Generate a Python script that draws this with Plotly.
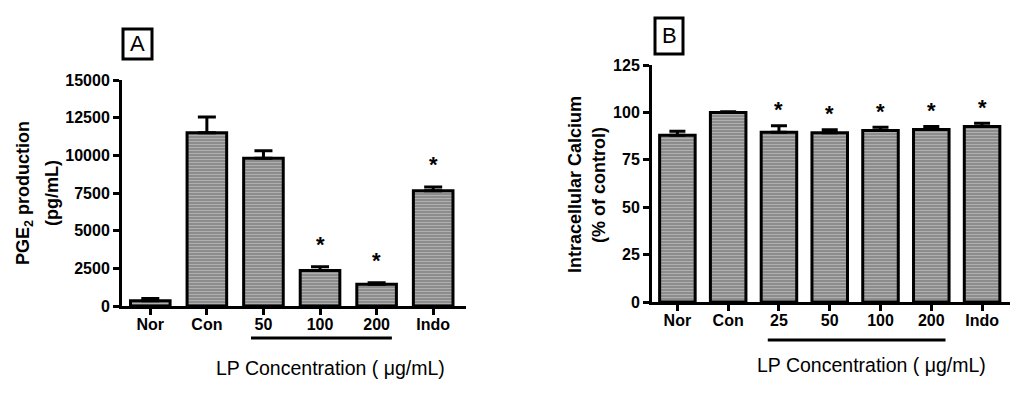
import plotly.graph_objects as go

# page = figure + 8px body margin on each side -> 1024x398 viewport
W, H = 1008, 382
OFF = 8

# ---- Data ----
cats_a = ["Nor", "Con", "50", "100", "200", "Indo"]
pge2 = [350, 11500, 9800, 2350, 1450, 7650]
pge2_sem = [150, 1050, 500, 250, 100, 250]
stars_a = ["100", "200", "Indo"]
ticks_a = [0, 2500, 5000, 7500, 10000, 12500, 15000]

cats_b = ["Nor", "Con", "25", "50", "100", "200", "Indo"]
calcium = [88, 100, 89.5, 89.3, 90.5, 91, 92.5]
calcium_sem = [2, 0.3, 3.5, 1.5, 1.7, 1.6, 1.8]
stars_b = ["25", "50", "100", "200", "Indo"]
ticks_b = [0, 25, 50, 75, 100, 125]

group_a = ("50", "200")
group_b = ("25", "200")

FONT = "Liberation Sans, Arial, Helvetica, sans-serif"
bar_pattern = dict(shape="-", fgcolor="#b4b4b4", bgcolor="#8c8c8c", fgopacity=1,
                   size=3, solidity=0.3)


def px_x(p):
    return (p - OFF) / W


def px_y(p):
    return 1 - (p - OFF) / H


fig = go.Figure()

fig.add_trace(go.Bar(
    x=list(range(len(cats_a))), y=pge2, xaxis="x", yaxis="y", width=0.7,
    marker=dict(color="#8c8c8c", pattern=bar_pattern, line=dict(color="black", width=3)),
    error_y=dict(type="data", symmetric=False, array=pge2_sem, arrayminus=[0] * len(pge2),
                 color="black", thickness=3, width=9),
    showlegend=False,
))
fig.add_trace(go.Bar(
    x=list(range(len(cats_b))), y=calcium, xaxis="x2", yaxis="y2", width=0.7,
    marker=dict(color="#8c8c8c", pattern=bar_pattern, line=dict(color="black", width=3)),
    error_y=dict(type="data", symmetric=False, array=calcium_sem, arrayminus=[0] * len(calcium),
                 color="black", thickness=3, width=8),
    showlegend=False,
))

axis_common = dict(showline=True, linecolor="black", linewidth=3, ticks="outside",
                   ticklen=6, tickwidth=3, tickcolor="black", showgrid=False, zeroline=False,
                   automargin=False,
                   tickfont=dict(family=FONT, size=16, color="black", weight="bold"))

fig.update_layout(
    template="none",
    width=W, height=H, margin=dict(l=0, r=0, t=0, b=0, pad=0, autoexpand=False),
    paper_bgcolor="white", plot_bgcolor="white",
    font=dict(family=FONT, color="black"),
    showlegend=False,
    xaxis=dict(domain=[px_x(122), px_x(466)], type="linear", range=[-0.5, 5.58],
               tickvals=list(range(len(cats_a))), ticktext=cats_a, ticklabelstandoff=-4,
               anchor="y", **axis_common),
    yaxis=dict(domain=[px_y(306), px_y(80)], range=[0, 15000], tickvals=ticks_a,
               ticktext=[str(t) for t in ticks_a], anchor="x", **axis_common),
    xaxis2=dict(domain=[px_x(652), px_x(1010)], type="linear", range=[-0.5, 6.55],
                tickvals=list(range(len(cats_b))), ticktext=cats_b, ticklabelstandoff=-4,
                anchor="y2", **axis_common),
    yaxis2=dict(domain=[px_y(302), px_y(65)], range=[0, 125], tickvals=ticks_b,
                ticktext=[str(t) for t in ticks_b], anchor="x2", **axis_common),
)

annotations = []
# stars
for c in stars_a:
    i = cats_a.index(c)
    annotations.append(dict(x=i, y=pge2[i] + pge2_sem[i], xref="x", yref="y", text="*",
                            showarrow=False, yanchor="middle", yshift=22,
                            font=dict(family=FONT, size=22, color="black", weight="bold")))
for c in stars_b:
    i = cats_b.index(c)
    annotations.append(dict(x=i, y=calcium[i] + calcium_sem[i], xref="x2", yref="y2", text="*",
                            showarrow=False, yanchor="middle", yshift=16,
                            font=dict(family=FONT, size=22, color="black", weight="bold")))

# y-axis titles
ytitle_font = dict(family=FONT, size=18, color="black", weight="bold")
annotations += [
    dict(x=px_x(25), y=px_y(193), xref="paper", yref="paper", text="PGE<sub>2</sub> production",
         textangle=-90, showarrow=False, xanchor="center", yanchor="middle", font=ytitle_font),
    dict(x=px_x(52), y=px_y(193), xref="paper", yref="paper", text="(pg/mL)",
         textangle=-90, showarrow=False, xanchor="center", yanchor="middle", font=ytitle_font),
    dict(x=px_x(575), y=px_y(185), xref="paper", yref="paper", text="Intracellular Calcium",
         textangle=-90, showarrow=False, xanchor="center", yanchor="middle", font=ytitle_font),
    dict(x=px_x(599), y=px_y(185), xref="paper", yref="paper", text="(% of control)",
         textangle=-90, showarrow=False, xanchor="center", yanchor="middle", font=ytitle_font),
]

# x-axis titles
xtitle_font = dict(family=FONT, size=19.5, color="black")
annotations += [
    dict(x=px_x(330), y=px_y(368), xref="paper", yref="paper", text="LP Concentration ( μg/mL)",
         showarrow=False, xanchor="center", yanchor="middle", font=xtitle_font),
    dict(x=px_x(871), y=px_y(365), xref="paper", yref="paper", text="LP Concentration ( μg/mL)",
         showarrow=False, xanchor="center", yanchor="middle", font=xtitle_font),
]

# panel letters
annotations += [
    dict(x=px_x(137.5), y=px_y(44), xref="paper", yref="paper", text="A", showarrow=False,
         xanchor="center", yanchor="middle", font=dict(family=FONT, size=22, color="black")),
    dict(x=px_x(669), y=px_y(36), xref="paper", yref="paper", text="B", showarrow=False,
         xanchor="center", yanchor="middle", font=dict(family=FONT, size=22, color="black")),
]

shapes = [
    dict(type="rect", xref="paper", yref="paper", x0=px_x(123), x1=px_x(152),
         y0=px_y(59), y1=px_y(29), line=dict(color="black", width=3)),
    dict(type="rect", xref="paper", yref="paper", x0=px_x(655), x1=px_x(683),
         y0=px_y(54), y1=px_y(18), line=dict(color="black", width=3)),
    # group underlines
    dict(type="line", xref="x", yref="paper",
         x0=cats_a.index(group_a[0]) - 0.22, x1=cats_a.index(group_a[1]) + 0.27,
         y0=px_y(338), y1=px_y(338), line=dict(color="black", width=3)),
    dict(type="line", xref="x2", yref="paper",
         x0=cats_b.index(group_b[0]) - 0.22, x1=cats_b.index(group_b[1]) + 0.28,
         y0=px_y(340), y1=px_y(340), line=dict(color="black", width=3)),
]

fig.update_layout(annotations=annotations, shapes=shapes)
fig.write_html("out.html")
